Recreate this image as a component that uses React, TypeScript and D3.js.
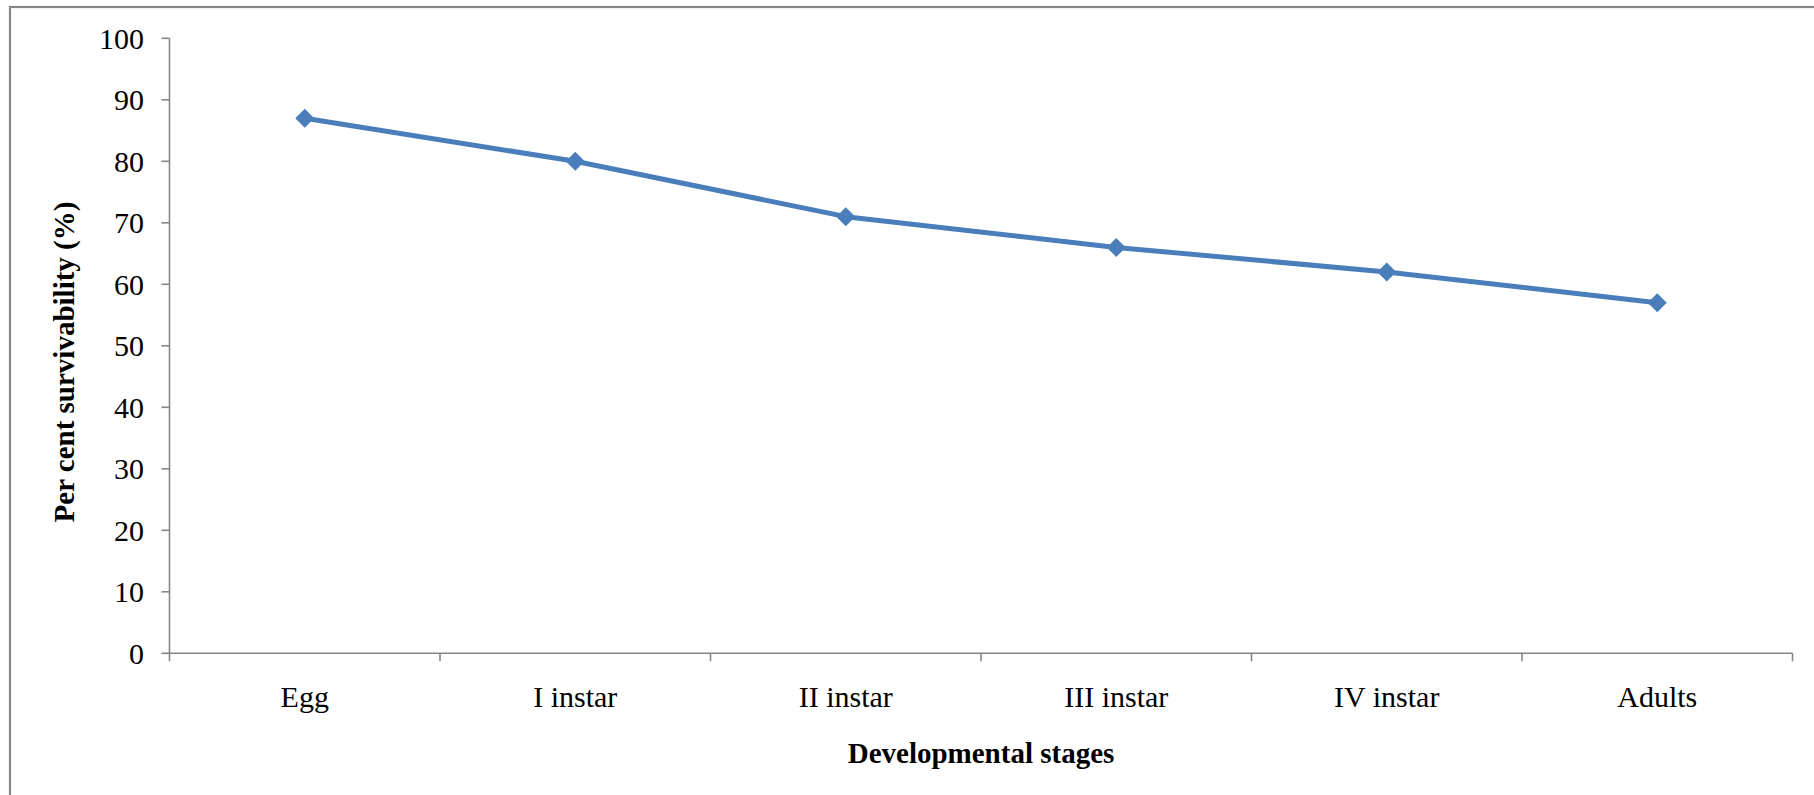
import React from "react";
import * as d3 from "d3";

const categories = ["Egg", "I instar", "II instar", "III instar", "IV instar", "Adults"];
const survival = [87, 80, 71, 66, 62, 57];
const yTicks = [0, 10, 20, 30, 40, 50, 60, 70, 80, 90, 100];

const W = 1814;
const H = 795;
const left = 169.5;
const right = 1792.5;
const top = 38.3;
const bottom = 653.3;

export default function App() {
  const x = d3.scaleBand<string>().domain(categories).range([left, right]).padding(0);
  const y = d3.scaleLinear().domain([0, 100]).range([bottom, top]);
  const line = d3
    .line<number>()
    .x((_, i) => (x(categories[i]) as number) + x.bandwidth() / 2)
    .y((d) => y(d));
  const font = "'Liberation Serif', 'Times New Roman', serif";
  const axisColor = "#868686";
  const blue = "#4a7ebb";
  const catTicks = [...categories.map((c) => x(c) as number), right];
  return (
    <svg
      width={W}
      height={H}
      style={{ position: "absolute", left: 0, top: 0, background: "#fff" }}
    >
      <rect x={10} y={7} width={W + 20} height={H + 20} fill="#fff" stroke={axisColor} strokeWidth={2.2} />
      {/* y axis */}
      <line x1={left} x2={left} y1={top} y2={bottom} stroke={axisColor} strokeWidth={1.6} />
      {yTicks.map((t) => (
        <g key={t}>
          <line x1={left - 8} x2={left} y1={y(t)} y2={y(t)} stroke={axisColor} strokeWidth={1.6} />
          <text
            x={144}
            y={y(t)}
            dy="0.34em"
            textAnchor="end"
            fontFamily={font}
            fontSize={30}
            fill="#000"
          >
            {t}
          </text>
        </g>
      ))}
      {/* x axis */}
      <line x1={left} x2={right} y1={bottom} y2={bottom} stroke={axisColor} strokeWidth={1.6} />
      {catTicks.map((tx, i) => (
        <line key={i} x1={tx} x2={tx} y1={bottom} y2={bottom + 8} stroke={axisColor} strokeWidth={1.6} />
      ))}
      {categories.map((c) => (
        <text
          key={c}
          x={(x(c) as number) + x.bandwidth() / 2}
          y={707}
          textAnchor="middle"
          fontFamily={font}
          fontSize={30}
          fill="#000"
        >
          {c}
        </text>
      ))}
      {/* series */}
      <path d={line(survival) || ""} fill="none" stroke={blue} strokeWidth={5} strokeLinejoin="round" />
      {survival.map((v, i) => {
        const cx = (x(categories[i]) as number) + x.bandwidth() / 2;
        const cy = y(v);
        const s = 9.5;
        return (
          <path
            key={i}
            d={`M${cx},${cy - s}L${cx + s},${cy}L${cx},${cy + s}L${cx - s},${cy}Z`}
            fill={blue}
          />
        );
      })}
      {/* titles */}
      <text
        transform={`translate(74, 362) rotate(-90)`}
        textAnchor="middle"
        fontFamily={font}
        fontSize={29}
        fontWeight="bold"
        fill="#000"
      >
        Per cent survivability (%)
      </text>
      <text
        x={(left + right) / 2}
        y={763}
        textAnchor="middle"
        fontFamily={font}
        fontSize={29}
        fontWeight="bold"
        fill="#000"
      >
        Developmental stages
      </text>
    </svg>
  );
}
